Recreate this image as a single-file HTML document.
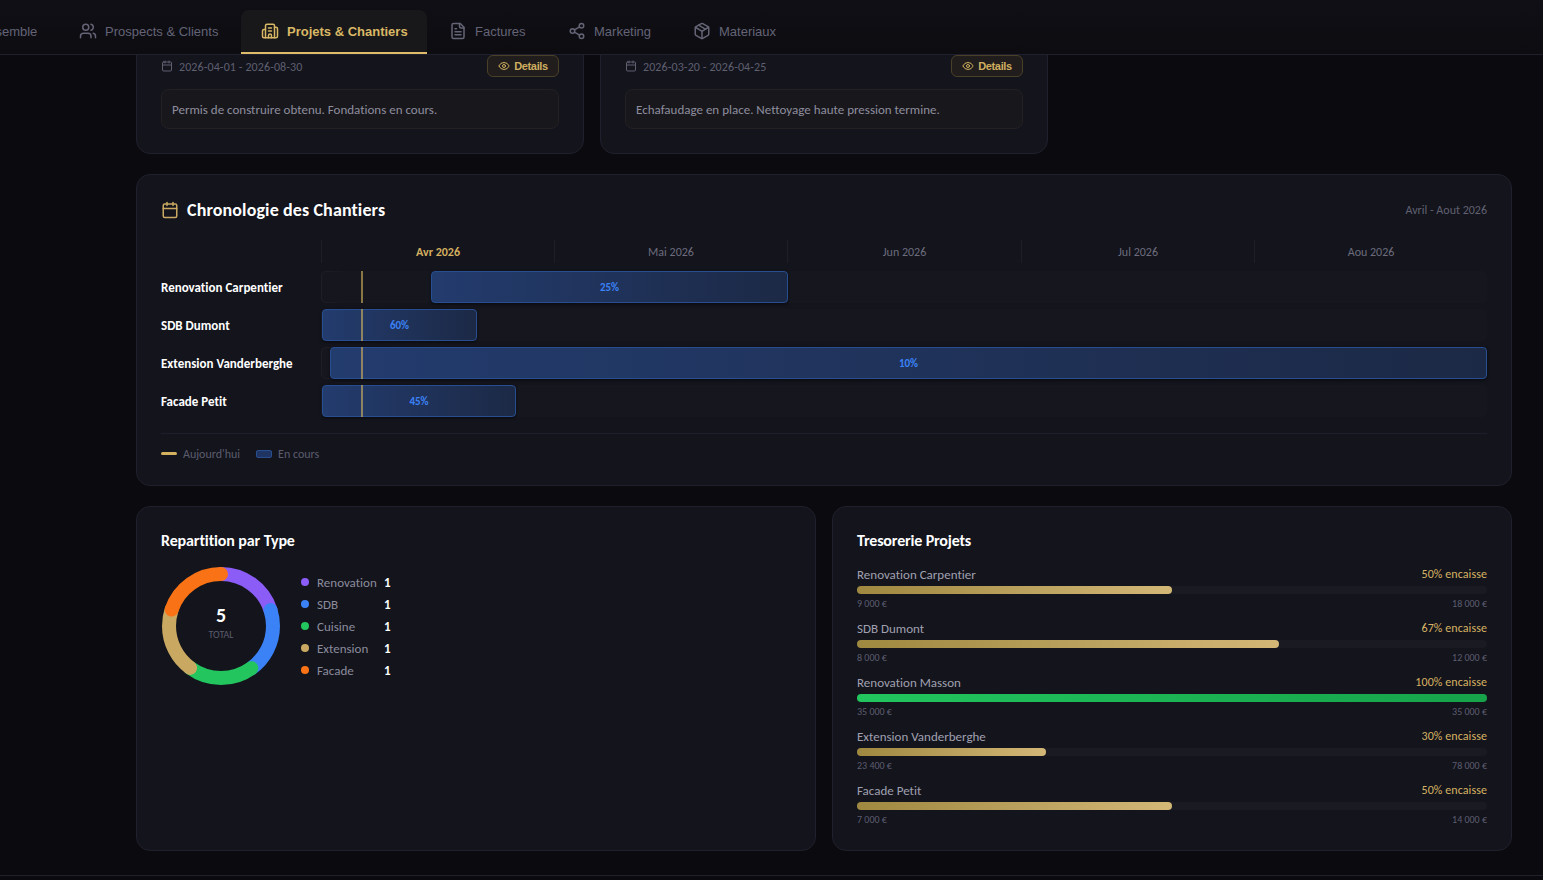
<!DOCTYPE html>
<html lang="fr">
<head>
<meta charset="utf-8">
<title>Projets &amp; Chantiers</title>
<style>
*{box-sizing:border-box;margin:0;padding:0}
html,body{width:1543px;height:880px;overflow:hidden;background:#0b0b0f}
body{position:relative;font-family:Carlito,"Liberation Sans",sans-serif;font-variant-ligatures:none;color:#e8e8ee}
svg{display:block}
.abs{position:absolute}
/* header */
.hdr{position:absolute;left:0;top:0;width:1543px;height:55px;background:linear-gradient(#0f0f15,#0c0c11);border-bottom:1px solid #201f2d;z-index:5}
.tab{position:absolute;top:10px;height:44px;display:flex;align-items:center;padding:0 20px 2px;font:13px "Liberation Sans",Arial,sans-serif;color:#646476;white-space:nowrap}
.tab svg{width:18px;height:18px;margin-right:8px;flex:none}
.tab.on{background:#181719;color:#d8b866;font-weight:bold;border-radius:8px 8px 0 0;border-bottom:2px solid #dcbc6a;padding-bottom:0}
/* cards */
.card{position:absolute;background:#13141c;border:1px solid #201f2d;border-radius:14px}
.date{position:absolute;display:flex;align-items:center;font-size:12px;color:#5f5f70;letter-spacing:0.1px}
.date svg{width:12px;height:12px;margin-right:6px;position:relative;top:-1px}
.btn{position:absolute;height:22px;width:72px;display:flex;align-items:center;justify-content:center;border:1px solid #4a4028;background:#201d1c;border-radius:6px;font:bold 11px "Liberation Sans",Arial,sans-serif;color:#cfae60;letter-spacing:-0.35px}
.btn svg{width:12px;height:12px;margin-right:4px}
.note{position:absolute;height:40px;border:1px solid #242123;background:#18171c;border-radius:8px;padding:0 10px;font-size:13px;line-height:40px;color:#8e8e9e}
.h2{font-weight:bold;color:#fff}
.lbl{position:absolute;left:161px;font-weight:bold;font-size:13px;color:#fff;line-height:32px}
.month{position:absolute;top:240px;height:23px;padding-top:1px;font-size:12px;color:#6c6c7c;text-align:center;line-height:23px;border-left:1px solid #1e1e28}
.track{position:absolute;left:321px;width:1166px;height:32px;border:1px solid transparent;background:linear-gradient(#16161f,#16161f) padding-box,linear-gradient(90deg,#1f1f2a,#16161f 24px) border-box;border-radius:5px}
.bar{position:absolute;top:-1px;height:32px;border:1px solid #274e91;border-radius:4px;background:linear-gradient(90deg,#233c6e,#1c2946);box-shadow:0 1px 3px rgba(0,0,0,.55);color:#3b82f6;font-weight:bold;font-size:11px;text-align:center;line-height:32px}
.today{position:absolute;left:361px;width:2px;height:32px;background:rgba(212,177,96,.62)}
.leg{position:absolute;display:flex;align-items:center;font-size:12px;color:#5c5c6e}
.dot{width:8px;height:8px;border-radius:50%;margin-right:8px;flex:none}
.lgi{position:absolute;left:301px;display:flex;align-items:center;height:22px;font-size:13px;color:#8c8c9c}
.lgi span.n{position:absolute;left:83px;font-weight:bold;color:#fff}
.tr{position:absolute;left:857px;width:630px}
.tr .top{display:flex;justify-content:space-between;font-size:13px;color:#a0a0b0;height:16px;line-height:16px;padding-top:1px}
.tr .pc{font-size:12px;color:#d6b262;position:relative;top:-1px;letter-spacing:0.08px}
.tr .rail{margin-top:4px;height:8px;border-radius:4px;background:#191a22;position:relative}
.tr .fill{position:absolute;left:0;top:0;height:8px;border-radius:4px;background:linear-gradient(90deg,#9f8840,#d3b777)}
.tr .amt{margin-top:3px;display:flex;justify-content:space-between;font-size:10px;color:#5d5d6f;line-height:13px}
.foot{position:absolute;left:0;top:875px;width:1543px;height:5px;border-top:1px solid #201f2d;background:#0b0b0f}
</style>
</head>
<body>

<!-- top partial cards -->
<div class="card" style="left:136px;top:-60px;width:448px;height:214px"></div>
<div class="card" style="left:600px;top:-60px;width:448px;height:214px"></div>

<div class="date" style="left:161px;top:61px;height:12px">
<svg viewBox="0 0 24 24" fill="none" stroke="currentColor" stroke-width="2" stroke-linecap="round" stroke-linejoin="round"><path d="M8 2v4"/><path d="M16 2v4"/><rect width="18" height="18" x="3" y="4" rx="2"/><path d="M3 10h18"/></svg>2026-04-01 - 2026-08-30</div>
<div class="btn" style="left:487px;top:55px"><svg viewBox="0 0 24 24" fill="none" stroke="currentColor" stroke-width="2" stroke-linecap="round" stroke-linejoin="round"><path d="M2.062 12.348a1 1 0 0 1 0-.696 10.75 10.75 0 0 1 19.876 0 1 1 0 0 1 0 .696 10.75 10.75 0 0 1-19.876 0"/><circle cx="12" cy="12" r="3"/></svg>Details</div>
<div class="note" style="left:161px;top:89px;width:398px">Permis de construire obtenu. Fondations en cours.</div>

<div class="date" style="left:625px;top:61px;height:12px">
<svg viewBox="0 0 24 24" fill="none" stroke="currentColor" stroke-width="2" stroke-linecap="round" stroke-linejoin="round"><path d="M8 2v4"/><path d="M16 2v4"/><rect width="18" height="18" x="3" y="4" rx="2"/><path d="M3 10h18"/></svg>2026-03-20 - 2026-04-25</div>
<div class="btn" style="left:951px;top:55px"><svg viewBox="0 0 24 24" fill="none" stroke="currentColor" stroke-width="2" stroke-linecap="round" stroke-linejoin="round"><path d="M2.062 12.348a1 1 0 0 1 0-.696 10.75 10.75 0 0 1 19.876 0 1 1 0 0 1 0 .696 10.75 10.75 0 0 1-19.876 0"/><circle cx="12" cy="12" r="3"/></svg>Details</div>
<div class="note" style="left:625px;top:89px;width:398px">Echafaudage en place. Nettoyage haute pression termine.</div>

<!-- header -->
<div class="hdr">
  <div class="tab" style="left:-101px"><svg viewBox="0 0 24 24" fill="none" stroke="currentColor" stroke-width="2" stroke-linecap="round" stroke-linejoin="round"><rect width="7" height="9" x="3" y="3" rx="1"/><rect width="7" height="5" x="14" y="3" rx="1"/><rect width="7" height="9" x="14" y="12" rx="1"/><rect width="7" height="5" x="3" y="16" rx="1"/></svg>Vue d'ensemble</div>
  <div class="tab" style="left:59px"><svg viewBox="0 0 24 24" fill="none" stroke="currentColor" stroke-width="2" stroke-linecap="round" stroke-linejoin="round"><path d="M16 21v-2a4 4 0 0 0-4-4H6a4 4 0 0 0-4 4v2"/><circle cx="9" cy="7" r="4"/><path d="M22 21v-2a4 4 0 0 0-3-3.87"/><path d="M16 3.13a4 4 0 0 1 0 7.75"/></svg>Prospects &amp; Clients</div>
  <div class="tab on" style="left:241px;width:186px"><svg viewBox="0 0 24 24" fill="none" stroke="currentColor" stroke-width="2" stroke-linecap="round" stroke-linejoin="round"><path d="M10 12h4"/><path d="M10 8h4"/><path d="M14 21v-3a2 2 0 0 0-4 0v3"/><path d="M6 10H4a2 2 0 0 0-2 2v7a2 2 0 0 0 2 2h16a2 2 0 0 0 2-2V9a2 2 0 0 0-2-2h-2"/><path d="M6 21V5a2 2 0 0 1 2-2h8a2 2 0 0 1 2 2v16"/></svg>Projets &amp; Chantiers</div>
  <div class="tab" style="left:429px"><svg viewBox="0 0 24 24" fill="none" stroke="currentColor" stroke-width="2" stroke-linecap="round" stroke-linejoin="round"><path d="M15 2H6a2 2 0 0 0-2 2v16a2 2 0 0 0 2 2h12a2 2 0 0 0 2-2V7Z"/><path d="M14 2v4a2 2 0 0 0 2 2h4"/><path d="M10 9H8"/><path d="M16 13H8"/><path d="M16 17H8"/></svg>Factures</div>
  <div class="tab" style="left:548px"><svg viewBox="0 0 24 24" fill="none" stroke="currentColor" stroke-width="2" stroke-linecap="round" stroke-linejoin="round"><circle cx="18" cy="5" r="3"/><circle cx="6" cy="12" r="3"/><circle cx="18" cy="19" r="3"/><line x1="8.59" x2="15.42" y1="13.51" y2="17.49"/><line x1="15.41" x2="8.59" y1="6.51" y2="10.49"/></svg>Marketing</div>
  <div class="tab" style="left:673px"><svg viewBox="0 0 24 24" fill="none" stroke="currentColor" stroke-width="2" stroke-linecap="round" stroke-linejoin="round"><path d="M11 21.73a2 2 0 0 0 2 0l7-4A2 2 0 0 0 21 16V8a2 2 0 0 0-1-1.73l-7-4a2 2 0 0 0-2 0l-7 4A2 2 0 0 0 3 8v8a2 2 0 0 0 1 1.73z"/><path d="M12 22V12"/><path d="m3.3 7 7.703 4.734a2 2 0 0 0 1.994 0L20.7 7"/><path d="m7.5 4.27 9 5.15"/></svg>Materiaux</div>
</div>

<!-- timeline card -->
<div class="card" style="left:136px;top:174px;width:1376px;height:312px"></div>
<svg class="abs" style="left:161px;top:201px" width="18" height="18" viewBox="0 0 24 24" fill="none" stroke="#c9a961" stroke-width="2" stroke-linecap="round" stroke-linejoin="round"><path d="M8 2v4"/><path d="M16 2v4"/><rect width="18" height="18" x="3" y="4" rx="2"/><path d="M3 10h18"/></svg>
<div class="abs h2" style="left:187px;top:199px;font-size:18px;line-height:22px;letter-spacing:0.12px">Chronologie des Chantiers</div>
<div class="abs" style="left:1300px;width:187px;text-align:right;top:203px;font-size:12px;line-height:15px;color:#606071">Avril - Aout 2026</div>

<div class="month" style="left:321px;width:233px;color:#d4b060;font-weight:bold">Avr 2026</div>
<div class="month" style="left:554px;width:233px">Mai 2026</div>
<div class="month" style="left:787px;width:234px">Jun 2026</div>
<div class="month" style="left:1021px;width:233px">Jul 2026</div>
<div class="month" style="left:1254px;width:233px">Aou 2026</div>

<div class="lbl" style="top:272px">Renovation Carpentier</div>
<div class="lbl" style="top:310px">SDB Dumont</div>
<div class="lbl" style="top:348px">Extension Vanderberghe</div>
<div class="lbl" style="top:386px">Facade Petit</div>

<div class="track" style="top:271px"><div class="bar" style="left:109px;width:357px">25%</div></div>
<div class="track" style="top:309px"><div class="bar" style="left:0px;width:155px">60%</div></div>
<div class="track" style="top:347px"><div class="bar" style="left:8px;width:1157px">10%</div></div>
<div class="track" style="top:385px"><div class="bar" style="left:0px;width:194px">45%</div></div>
<div class="today" style="top:271px"></div>
<div class="today" style="top:309px"></div>
<div class="today" style="top:347px"></div>
<div class="today" style="top:385px"></div>

<div class="abs" style="left:161px;top:433px;width:1326px;height:1px;background:#1e1e2a"></div>
<div class="leg" style="left:161px;top:447px;height:14px">
  <span style="width:16px;height:3px;border-radius:2px;background:#d4b15f;margin-right:6px;position:relative;top:-1px"></span>Aujourd'hui
  <span style="width:16px;height:8px;border-radius:2px;background:#1f3460;border:1px solid #274e91;margin:0 6px 0 16px"></span>En cours
</div>

<!-- bottom left card -->
<div class="card" style="left:136px;top:506px;width:680px;height:345px"></div>
<div class="abs h2" style="left:161px;top:531px;font-size:16px;line-height:20px;letter-spacing:-0.12px">Repartition par Type</div>
<svg class="abs" style="left:161px;top:566px" width="120" height="120" viewBox="0 0 120 120">
  <g fill="none" stroke-width="14" stroke-linecap="round" transform="rotate(-90 60 60)">
    <circle cx="60" cy="60" r="52" stroke="#8b5cf6" stroke-dasharray="65.35 261.4" stroke-dashoffset="0"/>
    <circle cx="60" cy="60" r="52" stroke="#3b82f6" stroke-dasharray="65.35 261.4" stroke-dashoffset="-65.35"/>
    <circle cx="60" cy="60" r="52" stroke="#22c55e" stroke-dasharray="65.35 261.4" stroke-dashoffset="-130.7"/>
    <circle cx="60" cy="60" r="52" stroke="#c9a961" stroke-dasharray="65.35 261.4" stroke-dashoffset="-196.05"/>
    <circle cx="60" cy="60" r="52" stroke="#f97316" stroke-dasharray="65.35 261.4" stroke-dashoffset="-261.4"/>
  </g>
</svg>
<div class="abs" style="left:201px;width:40px;top:603px;text-align:center;font-weight:bold;font-size:20px;line-height:24px;color:#fff">5</div>
<div class="abs" style="left:191px;width:60px;top:629px;text-align:center;font-size:10px;line-height:12px;color:#5c5c6e">TOTAL</div>

<div class="lgi" style="top:571px"><span class="dot" style="background:#8b5cf6"></span>Renovation<span class="n">1</span></div>
<div class="lgi" style="top:593px"><span class="dot" style="background:#3b82f6"></span>SDB<span class="n">1</span></div>
<div class="lgi" style="top:615px"><span class="dot" style="background:#22c55e"></span>Cuisine<span class="n">1</span></div>
<div class="lgi" style="top:637px"><span class="dot" style="background:#c9a961"></span>Extension<span class="n">1</span></div>
<div class="lgi" style="top:659px"><span class="dot" style="background:#f97316"></span>Facade<span class="n">1</span></div>

<!-- bottom right card -->
<div class="card" style="left:832px;top:506px;width:680px;height:345px"></div>
<div class="abs h2" style="left:857px;top:531px;font-size:16px;line-height:20px;letter-spacing:-0.17px">Tresorerie Projets</div>

<div class="tr" style="top:566px"><div class="top"><span>Renovation Carpentier</span><span class="pc">50% encaisse</span></div><div class="rail"><div class="fill" style="width:50%"></div></div><div class="amt"><span>9&#8239;000&nbsp;€</span><span>18&#8239;000&nbsp;€</span></div></div>
<div class="tr" style="top:620px"><div class="top"><span>SDB Dumont</span><span class="pc">67% encaisse</span></div><div class="rail"><div class="fill" style="width:67%"></div></div><div class="amt"><span>8&#8239;000&nbsp;€</span><span>12&#8239;000&nbsp;€</span></div></div>
<div class="tr" style="top:674px"><div class="top"><span>Renovation Masson</span><span class="pc">100% encaisse</span></div><div class="rail"><div class="fill" style="width:100%;background:linear-gradient(90deg,#22c55e,#16a34a)"></div></div><div class="amt"><span>35&#8239;000&nbsp;€</span><span>35&#8239;000&nbsp;€</span></div></div>
<div class="tr" style="top:728px"><div class="top"><span>Extension Vanderberghe</span><span class="pc">30% encaisse</span></div><div class="rail"><div class="fill" style="width:30%"></div></div><div class="amt"><span>23&#8239;400&nbsp;€</span><span>78&#8239;000&nbsp;€</span></div></div>
<div class="tr" style="top:782px"><div class="top"><span>Facade Petit</span><span class="pc">50% encaisse</span></div><div class="rail"><div class="fill" style="width:50%"></div></div><div class="amt"><span>7&#8239;000&nbsp;€</span><span>14&#8239;000&nbsp;€</span></div></div>

<div class="foot"></div>
</body>
</html>
